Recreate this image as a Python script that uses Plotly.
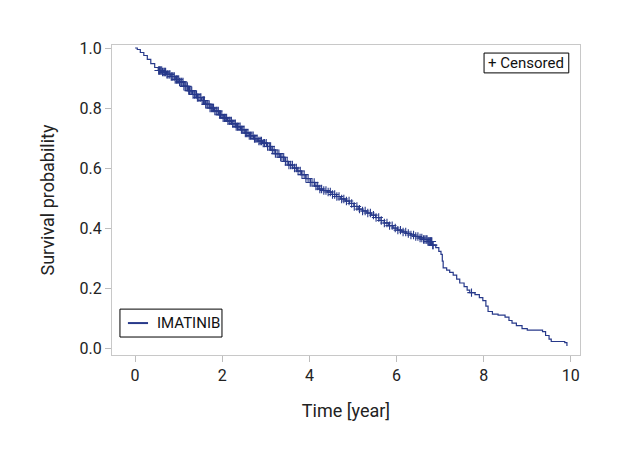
import bisect
import plotly.graph_objects as go

# Kaplan-Meier step curve (time in years, survival probability)
step_time = [0.00, 0.05, 0.12, 0.20, 0.28, 0.36, 0.45, 0.53, 0.62, 0.72, 0.82, 0.92,
             1.02, 1.12, 1.22, 1.32, 1.42, 1.52, 1.62, 1.72, 1.82, 1.92,
             2.02, 2.12, 2.22, 2.32, 2.42, 2.52, 2.62, 2.72, 2.82, 2.92,
             3.02, 3.12, 3.22, 3.32, 3.42, 3.52, 3.62, 3.72, 3.82, 3.92,
             4.02, 4.12, 4.22, 4.32, 4.42, 4.52, 4.62, 4.72, 4.82, 4.92,
             5.02, 5.12, 5.22, 5.32, 5.42, 5.52, 5.62, 5.72, 5.82, 5.92,
             6.02, 6.12, 6.22, 6.32, 6.42, 6.52, 6.62, 6.72, 6.82, 6.90, 6.97,
             7.02, 7.05, 7.07, 7.15, 7.22, 7.30, 7.38, 7.45, 7.55, 7.62, 7.68,
             7.80, 7.90, 7.98, 8.05, 8.10, 8.20, 8.33, 8.49, 8.58, 8.65, 8.75, 8.88,
             9.00, 9.35, 9.42, 9.50, 9.55, 9.86, 9.91]
step_surv = [1.000, 0.995, 0.985, 0.975, 0.962, 0.948, 0.935, 0.925, 0.920, 0.912, 0.905, 0.895,
             0.887, 0.872, 0.858, 0.845, 0.835, 0.825, 0.812, 0.800, 0.790, 0.778,
             0.767, 0.757, 0.748, 0.738, 0.728, 0.717, 0.708, 0.698, 0.690, 0.683,
             0.672, 0.660, 0.648, 0.636, 0.622, 0.610, 0.600, 0.590, 0.578, 0.565,
             0.552, 0.540, 0.530, 0.525, 0.520, 0.512, 0.505, 0.497, 0.490, 0.482,
             0.472, 0.463, 0.457, 0.450, 0.443, 0.435, 0.425, 0.417, 0.408, 0.400,
             0.393, 0.387, 0.382, 0.377, 0.372, 0.367, 0.362, 0.355, 0.343, 0.335, 0.322,
             0.312, 0.290, 0.267, 0.260, 0.252, 0.243, 0.230, 0.217, 0.205, 0.193, 0.185,
             0.178, 0.168, 0.158, 0.140, 0.122, 0.113, 0.110, 0.103, 0.092, 0.083, 0.075, 0.065,
             0.060, 0.055, 0.042, 0.030, 0.022, 0.018, 0.007]

# Censoring times (years)
censor_time = [0.54, 0.56, 0.58, 0.61, 0.63, 0.66, 0.68, 0.70, 0.73, 0.75, 0.78, 0.80, 0.83, 0.85,
               0.87, 0.90, 0.92, 0.95, 0.97, 1.00, 1.02, 1.05, 1.07, 1.10, 1.12, 1.15, 1.17, 1.20,
               1.23, 1.25, 1.28, 1.30, 1.33, 1.36, 1.38, 1.41, 1.43, 1.46, 1.49, 1.51, 1.54, 1.57,
               1.59, 1.62, 1.65, 1.67, 1.70, 1.72, 1.75, 1.78, 1.80, 1.83, 1.86, 1.88, 1.91, 1.94,
               1.96, 1.99, 2.02, 2.05, 2.07, 2.10, 2.13, 2.16, 2.18, 2.21, 2.24, 2.27, 2.30, 2.32,
               2.35, 2.38, 2.41, 2.44, 2.47, 2.50, 2.53, 2.56, 2.59, 2.62, 2.65, 2.68, 2.71, 2.74,
               2.77, 2.80, 2.84, 2.87, 2.90, 2.94, 2.97, 3.01, 3.04, 3.08, 3.11, 3.15, 3.19, 3.22,
               3.26, 3.30, 3.34, 3.37, 3.41, 3.45, 3.49, 3.53, 3.57, 3.61, 3.66, 3.70, 3.74, 3.79,
               3.83, 3.88, 3.92, 3.97, 4.02, 4.06, 4.11, 4.15, 4.19, 4.24, 4.28, 4.33, 4.38, 4.43,
               4.48, 4.53, 4.58, 4.63, 4.68, 4.74, 4.79, 4.85, 4.91, 4.97, 5.03, 5.09, 5.15, 5.22,
               5.28, 5.34, 5.40, 5.47, 5.53, 5.59, 5.65, 5.72, 5.78, 5.84, 5.90, 5.97, 6.03, 6.09,
               6.15, 6.21, 6.27, 6.33, 6.39, 6.44, 6.49, 6.54, 6.58, 6.62, 6.65, 6.68, 6.70, 6.72,
               6.74, 6.75, 6.77, 6.78, 6.80, 6.81, 6.83, 6.84, 7.72]

x_ticks = [0, 2, 4, 6, 8, 10]
y_ticks = [0.0, 0.2, 0.4, 0.6, 0.8, 1.0]
y_tick_labels = ["0.0", "0.2", "0.4", "0.6", "0.8", "1.0"]

group_name = "IMATINIB"
censor_label = "+ Censored"


def surv_at(t):
    i = bisect.bisect_right(step_time, t) - 1
    return step_surv[max(i, 0)]


censor_surv = [surv_at(t) for t in censor_time]

LINE = "#27398a"
FONT = "Roboto, Liberation Sans, sans-serif"

fig = go.Figure()
fig.add_trace(go.Scatter(x=step_time, y=step_surv, mode="lines", line_shape="hv",
                         line=dict(color=LINE, width=1.2), name=group_name,
                         showlegend=False, hoverinfo="skip"))
fig.add_trace(go.Scatter(x=censor_time, y=censor_surv, mode="markers",
                         marker=dict(symbol="cross-thin", size=6,
                                     line=dict(color=LINE, width=1.1)),
                         name="Censored", showlegend=False))

# Legend boxes (layout decorations in paper coordinates)
fig.add_shape(type="rect", xref="paper", yref="paper", x0=0.795, x1=0.976, y0=0.910, y1=0.974,
              line=dict(color="#000000", width=1), fillcolor="white", layer="above")
fig.add_annotation(xref="paper", yref="paper", x=0.8855, y=0.942, xanchor="center",
                   yanchor="middle", text=censor_label, showarrow=False,
                   font=dict(family=FONT, size=15, color="#111111"))
fig.add_shape(type="rect", xref="paper", yref="paper", x0=0.017, x1=0.235, y0=0.058, y1=0.148,
              line=dict(color="#000000", width=1), fillcolor="white", layer="above")
fig.add_shape(type="line", xref="paper", yref="paper", x0=0.034, x1=0.077, y0=0.103, y1=0.103,
              line=dict(color=LINE, width=2), layer="above")
fig.add_annotation(xref="paper", yref="paper", x=0.092, y=0.103, xanchor="left",
                   yanchor="middle", text=group_name, showarrow=False,
                   font=dict(family=FONT, size=15, color="#111111"))

# page body has an 8px default margin; margins compensate for it
fig.update_layout(
    width=620, height=460,
    margin=dict(l=104, r=48, t=37, b=113),
    paper_bgcolor="white", plot_bgcolor="white",
    font=dict(family=FONT, size=16, color="#222222"),
    xaxis=dict(range=[-0.53, 10.21], tickvals=x_ticks, ticks="outside", ticklen=6,
               tickcolor="#bdbdbd", showline=True, linecolor="#c8c8c8", linewidth=1,
               mirror=True, showgrid=False, zeroline=False,
               title=dict(text="Time [year]", standoff=20, font=dict(size=18)),
               tickfont=dict(family=FONT, size=16)),
    yaxis=dict(range=[-0.023, 1.01], tickvals=y_ticks, ticktext=y_tick_labels,
               ticks="outside", ticklen=6, tickcolor="#bdbdbd", showline=True,
               linecolor="#c8c8c8", linewidth=1, mirror=True, showgrid=False,
               zeroline=False, title=dict(text="Survival probability", standoff=20,
                                          font=dict(size=18)),
               tickfont=dict(family=FONT, size=16)),
)

fig.write_html("out.html")
